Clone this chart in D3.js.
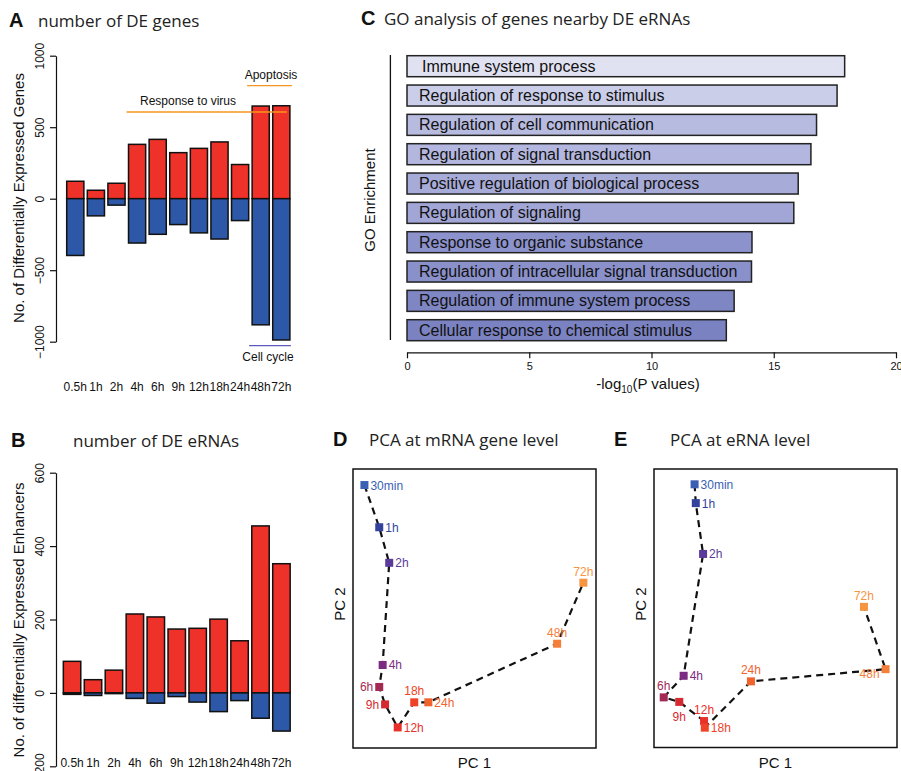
<!DOCTYPE html>
<html>
<head>
<meta charset="utf-8">
<script src="https://cdn.jsdelivr.net/npm/d3@7"></script>
<style>
  body { margin: 0; background: #fff; }
  svg { display: block; font-family: "Liberation Sans", Arial, sans-serif; }
  .title { font-family: "Open Sans", sans-serif; font-size: 17px; fill: #222; }
  .letter { font-family: "Liberation Sans", Arial, sans-serif; font-weight: bold; font-size: 20px; fill: #111; }
  .axis text { font-size: 12px; fill: #111; }
  .axis path, .axis line { stroke: #111; stroke-width: 1.2; }
</style>
</head>
<body>
<div id="chart"></div>
<script>
// panel A / B categories and counts
const times = ["0.5h", "1h", "2h", "4h", "6h", "9h", "12h", "18h", "24h", "48h", "72h"];
const geneUp = [122, 59, 108, 380, 415, 322, 352, 397, 239, 648, 650];
const geneDown = [397, 120, 45, 310, 249, 181, 239, 282, 153, 882, 988];
const ernaUp = [86, 36, 62, 215, 207, 174, 176, 201, 142, 455, 352];
const ernaDown = [4, 7, 2, 15, 28, 10, 25, 51, 21, 69, 104];
const geneTicks = [-1000, -500, 0, 500, 1000];
const ernaTicks = [-200, 0, 200, 400, 600];

// panel C
const goTerms = [
    "Immune system process",
    "Regulation of response to stimulus",
    "Regulation of cell communication",
    "Regulation of signal transduction",
    "Positive regulation of biological process",
    "Regulation of signaling",
    "Response to organic substance",
    "Regulation of intracellular signal transduction",
    "Regulation of immune system process",
    "Cellular response to chemical stimulus"
];
const goValues = [17.9, 17.59, 16.75, 16.52, 16.0, 15.82, 14.11, 14.09, 13.38, 13.06];
const goTicks = [0, 5, 10, 15, 20];

// panel D / E
const pcaTimes = ["30min", "1h", "2h", "4h", "6h", "9h", "12h", "18h", "24h", "48h", "72h"];
const mrnaPC1 = [-35.3, -29.2, -25.1, -27.8, -29.2, -26.8, -21.6, -14.8, -9.0, 44.0, 54.8];
const mrnaPC2 = [35.4, 23.3, 13.1, -16.2, -22.5, -27.5, -34.1, -26.9, -26.9, -10.1, 7.4];
const ernaPC1 = [-23.3, -22.8, -19.8, -27.8, -36.0, -29.6, -19.4, -19.1, -0.1, 55.3, 46.4];
const ernaPC2 = [35.6, 30.2, 15.6, -19.4, -25.6, -26.9, -32.4, -34.3, -21.0, -17.5, 0.4];

const red = "#ee3129", blue = "#2c58a7";
const goColors = ["#e1e2f1", "#cbcee9", "#b7bbe0", "#b3b7df", "#a7abd8", "#a2a6d6", "#8c92cb", "#8a90ca", "#7f86c4", "#7b82c2"];
const timeColors = ["#3a5fb5", "#33429c", "#5a3a9a", "#7b2c82", "#a22a55", "#d52a30", "#e9312b", "#ee4329", "#f1632d", "#f47f3b", "#f7943f"];
const mrnaLabelPos = ["r", "r", "r", "r", "l", "l", "r", "t", "r", "t", "t"];
const ernaLabelPos = ["r", "r", "r", "r", "t", "b", "t", "r", "t", "lb", "t"];

const svg = d3.select("#chart").append("svg")
    .attr("width", 901)
    .attr("height", 771);

function panelTitle(letter, lx, text, tx, y) {
    svg.append("text").attr("class", "letter").attr("x", lx).attr("y", y).text(letter);
    svg.append("text").attr("class", "title").attr("x", tx).attr("y", y).text(text);
}

function rotatedLabel(text, x, y, size) {
    svg.append("text")
        .attr("transform", `translate(${x},${y}) rotate(-90)`)
        .attr("text-anchor", "middle")
        .style("font-size", size + "px")
        .style("fill", "#111")
        .text(text);
}

// stacked up/down bar panel (A and B)
function drawUpDown(up, down, y, x, ticks, labelY) {
    const g = svg.append("g");

    g.append("g")
        .attr("class", "axis")
        .attr("transform", "translate(56,0)")
        .call(d3.axisLeft(y).tickValues(ticks).tickSize(6).tickSizeOuter(0).tickFormat(d3.format("d")))
        .selectAll("text")
        .attr("x", null).attr("dy", null)
        .attr("text-anchor", "middle")
        .attr("transform", "translate(-12,0) rotate(-90)");

    g.selectAll(".up")
        .data(times)
        .enter().append("rect")
        .attr("x", d => x(d))
        .attr("width", x.bandwidth())
        .attr("y", (d, i) => y(up[i]))
        .attr("height", (d, i) => y(0) - y(up[i]))
        .attr("fill", red)
        .attr("stroke", "#111")
        .attr("stroke-width", 1.5);

    g.selectAll(".down")
        .data(times)
        .enter().append("rect")
        .attr("x", d => x(d))
        .attr("width", x.bandwidth())
        .attr("y", y(0))
        .attr("height", (d, i) => y(-down[i]) - y(0))
        .attr("fill", blue)
        .attr("stroke", "#111")
        .attr("stroke-width", 1.5);

    g.selectAll(".tlab")
        .data(times)
        .enter().append("text")
        .attr("x", d => x(d) + x.bandwidth() / 2)
        .attr("y", labelY)
        .attr("text-anchor", "middle")
        .style("font-size", "12px")
        .style("fill", "#111")
        .text(d => d);
    return g;
}

// ---------- A ----------
panelTitle("A", 9, "number of DE genes", 38, 27);
const yA = d3.scaleLinear().domain([-1000, 1000]).range([341.7, 55.7]);
const xA = d3.scaleBand().domain(times).range([65, 291.6]).paddingInner(0.167).paddingOuter(0.083);
drawUpDown(geneUp, geneDown, yA, xA, geneTicks, 391);
rotatedLabel("No. of Differentially Expressed Genes", 24, 198, 15);

const orange = "#f7941d";
svg.append("line")
    .attr("x1", xA("4h") - 2).attr("x2", xA("72h") + xA.bandwidth() - 3)
    .attr("y1", 112).attr("y2", 112)
    .attr("stroke", orange).attr("stroke-width", 1.3);
svg.append("text").attr("x", 188).attr("y", 105).attr("text-anchor", "middle")
    .style("font-size", "12px").style("fill", "#111").text("Response to virus");
svg.append("line")
    .attr("x1", xA("48h") - 5).attr("x2", xA("72h") + xA.bandwidth() + 2)
    .attr("y1", 85.7).attr("y2", 85.7)
    .attr("stroke", orange).attr("stroke-width", 1.3);
svg.append("text").attr("x", 271).attr("y", 79).attr("text-anchor", "middle")
    .style("font-size", "12px").style("fill", "#111").text("Apoptosis");
svg.append("line")
    .attr("x1", xA("48h") - 3).attr("x2", xA("72h") + xA.bandwidth() + 1)
    .attr("y1", 345.7).attr("y2", 345.7)
    .attr("stroke", "#5b5bbf").attr("stroke-width", 1.3);
svg.append("text").attr("x", 268).attr("y", 361).attr("text-anchor", "middle")
    .style("font-size", "12px").style("fill", "#111").text("Cell cycle");

// ---------- B ----------
panelTitle("B", 11, "number of DE eRNAs", 73, 447);
const yB = d3.scaleLinear().domain([-200, 600]).range([766.3, 472.7]);
const xB = d3.scaleBand().domain(times).range([61.6, 291.9]).paddingInner(0.167).paddingOuter(0.083);
drawUpDown(ernaUp, ernaDown, yB, xB, ernaTicks, 767);
rotatedLabel("No. of differentially Expressed Enhancers", 24, 620, 15);

// ---------- C ----------
panelTitle("C", 361, "GO analysis of genes nearby DE eRNAs", 384, 25);
const xC = d3.scaleLinear().domain([0, 20]).range([407, 896]);
const yC = d3.scaleBand().domain(goTerms).range([55.7, 340.7]).paddingInner(0.284).paddingOuter(0);

svg.append("line")
    .attr("x1", 390.4).attr("x2", 390.4).attr("y1", 55).attr("y2", 340)
    .attr("stroke", "#111").attr("stroke-width", 1.3);
rotatedLabel("GO Enrichment", 375, 200, 15);

svg.selectAll(".go-bar")
    .data(goTerms)
    .enter().append("rect")
    .attr("class", "go-bar")
    .attr("x", xC(0))
    .attr("y", d => yC(d))
    .attr("width", (d, i) => xC(goValues[i]) - xC(0))
    .attr("height", yC.bandwidth())
    .attr("fill", (d, i) => goColors[i])
    .attr("stroke", "#222")
    .attr("stroke-width", 1.5);

svg.selectAll(".go-text")
    .data(goTerms)
    .enter().append("text")
    .attr("x", (d, i) => i === 0 ? 422 : 419)
    .attr("y", d => yC(d) + yC.bandwidth() / 2 + 5.5)
    .style("font-size", "16px")
    .style("fill", "#111")
    .text(d => d);

svg.append("g")
    .attr("class", "axis")
    .attr("transform", "translate(0,352.3)")
    .call(d3.axisBottom(xC).tickValues(goTicks).tickSize(6).tickSizeOuter(0).tickPadding(4))
    .selectAll("text").style("font-size", "11px");

const xl = svg.append("text").attr("x", 648).attr("y", 389).attr("text-anchor", "middle")
    .style("font-size", "15px").style("fill", "#111");
xl.append("tspan").text("-log");
xl.append("tspan").attr("dy", 4).style("font-size", "10px").text("10");
xl.append("tspan").attr("dy", -4).text("(P values)");

// ---------- D / E ----------
function drawPCA(pc1, pc2, labelPos, left, right, top, bottom) {
    const x = d3.scaleLinear().domain([-40, 60]).range([left, right]);
    const y = d3.scaleLinear().domain([-40, 40]).range([bottom, top]);
    const g = svg.append("g");

    g.append("rect")
        .attr("x", left).attr("y", top)
        .attr("width", right - left).attr("height", bottom - top)
        .attr("fill", "none").attr("stroke", "#111").attr("stroke-width", 1.5);

    const pts = pcaTimes.map((t, i) => ({ t, i, x: pc1[i], y: pc2[i] }));

    g.append("path")
        .datum(pts)
        .attr("fill", "none")
        .attr("stroke", "#111")
        .attr("stroke-width", 2.2)
        .attr("stroke-dasharray", "7,5")
        .attr("d", d3.line().x(d => x(d.x)).y(d => y(d.y)));

    g.selectAll(".pt")
        .data(pts)
        .enter().append("rect")
        .attr("x", d => x(d.x) - 4)
        .attr("y", d => y(d.y) - 4)
        .attr("width", 8).attr("height", 8)
        .attr("fill", d => timeColors[d.i]);

    g.selectAll(".pt-label")
        .data(pts)
        .enter().append("text")
        .attr("x", d => {
            const p = labelPos[d.i];
            if (p === "r") return x(d.x) + 6;
            if (p === "l" || p === "lb") return x(d.x) - 6;
            return x(d.x);
        })
        .attr("y", d => {
            const p = labelPos[d.i];
            if (p === "t") return y(d.y) - 7;
            if (p === "b") return y(d.y) + 19;
            if (p === "lb") return y(d.y) + 9;
            return y(d.y) + 4.5;
        })
        .attr("text-anchor", d => {
            const p = labelPos[d.i];
            if (p === "r") return "start";
            if (p === "l" || p === "lb") return "end";
            return "middle";
        })
        .style("font-size", "12px")
        .style("fill", d => timeColors[d.i])
        .text(d => d.t);

    g.append("text")
        .attr("x", (left + right) / 2).attr("y", 768)
        .attr("text-anchor", "middle")
        .style("font-size", "15px").style("fill", "#111")
        .text("PC 1");
    rotatedLabel("PC 2", left - 8, 604, 15);
}

panelTitle("D", 333, "PCA at mRNA gene level", 369, 446);
drawPCA(mrnaPC1, mrnaPC2, mrnaLabelPos, 353, 596, 469, 748);

panelTitle("E", 614, "PCA at eRNA level", 670, 446);
drawPCA(ernaPC1, ernaPC2, ernaLabelPos, 654, 897, 469, 747.5);
</script>
</body>
</html>
